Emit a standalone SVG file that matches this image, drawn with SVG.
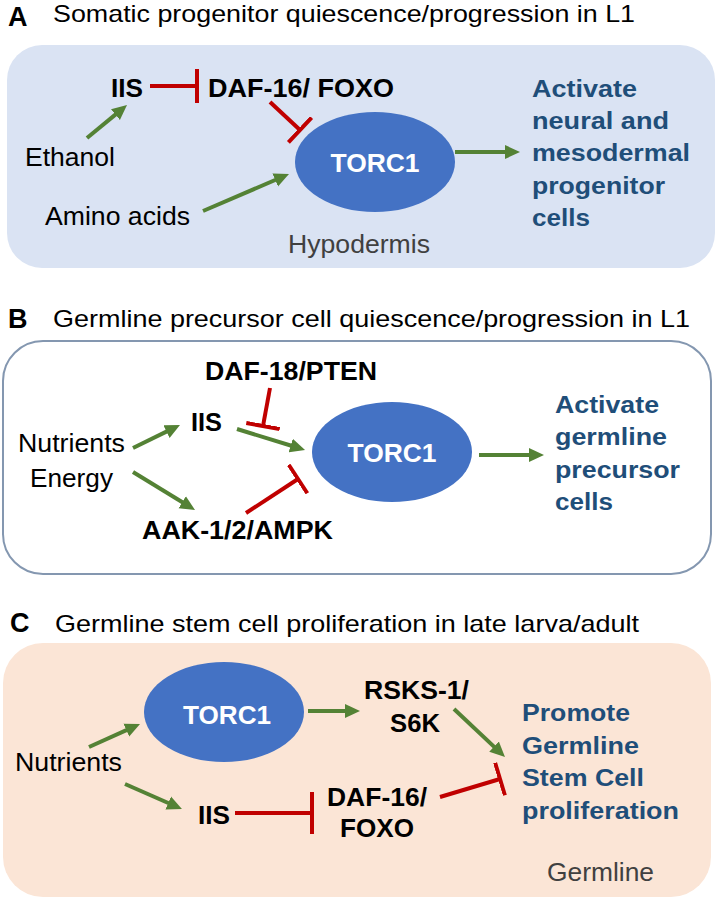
<svg xmlns="http://www.w3.org/2000/svg" width="717" height="899" viewBox="0 0 717 899">
<style>
text{font-family:"Liberation Sans",Arial,sans-serif;}
.lbl{font-size:27px;font-weight:bold;fill:#000;}
.ttl{font-size:24px;fill:#000;}
.b{font-size:26px;font-weight:bold;fill:#000;}
.r{font-size:25px;fill:#000;}
.out{font-size:23px;font-weight:bold;fill:#1f4e79;}
.tissue{font-size:25px;fill:#404040;}
.torc{font-size:26px;font-weight:bold;fill:#fff;}
.ell{fill:#4472c4;}
.act{stroke:#548235;stroke-width:4;fill:none;marker-end:url(#arr);}
.inh{stroke:#c00000;stroke-width:4;fill:none;marker-end:url(#tee);}
.inhL{stroke:#c00000;stroke-width:4;fill:none;marker-end:url(#teeL);}
</style>
<defs>
<marker id="arr" markerUnits="userSpaceOnUse" markerWidth="16" markerHeight="16" refX="5" refY="7" orient="auto" viewBox="0 0 16 14">
<path d="M0,0 L15,7 L0,14 Z" fill="#548235"/>
</marker>
<marker id="tee" markerUnits="userSpaceOnUse" markerWidth="6" markerHeight="36" refX="2" refY="17" orient="auto" viewBox="0 0 6 36">
<path d="M2,0 L2,34" stroke="#c00000" stroke-width="4"/>
</marker>
<marker id="teeL" markerUnits="userSpaceOnUse" markerWidth="6" markerHeight="44" refX="2" refY="21" orient="auto" viewBox="0 0 6 44">
<path d="M2,0 L2,42" stroke="#c00000" stroke-width="4"/>
</marker>
</defs>

<!-- Panel A -->
<g id="panelA">
<text class="lbl" x="8" y="26">A</text>
<text class="ttl" x="53" y="22" textLength="582" lengthAdjust="spacingAndGlyphs">Somatic progenitor quiescence/progression in L1</text>
<rect x="7" y="45" width="708" height="223" rx="35" ry="35" fill="#dae3f3"/>
<text class="tissue" x="288" y="253" textLength="142" lengthAdjust="spacingAndGlyphs">Hypodermis</text>
</g>
<g id="A_IIS"><text class="b" x="111" y="97" textLength="32" lengthAdjust="spacingAndGlyphs">IIS</text></g>
<g id="A_DAF16"><text class="b" x="208" y="97" textLength="186" lengthAdjust="spacingAndGlyphs">DAF-16/ FOXO</text></g>
<g id="A_Ethanol"><text class="r" x="25" y="166" textLength="90" lengthAdjust="spacingAndGlyphs">Ethanol</text></g>
<g id="A_Amino"><text class="r" x="45" y="225" textLength="145" lengthAdjust="spacingAndGlyphs">Amino acids</text></g>
<g id="A_TORC1"><ellipse class="ell" cx="375" cy="162" rx="80" ry="50"/><text class="torc" x="375" y="172" text-anchor="middle" textLength="89" lengthAdjust="spacingAndGlyphs">TORC1</text></g>
<g id="A_Out">
<text class="out" x="532" y="97" textLength="105" lengthAdjust="spacingAndGlyphs">Activate</text>
<text class="out" x="532" y="129" textLength="137" lengthAdjust="spacingAndGlyphs">neural and</text>
<text class="out" x="532" y="161" textLength="158" lengthAdjust="spacingAndGlyphs">mesodermal</text>
<text class="out" x="532" y="194" textLength="133" lengthAdjust="spacingAndGlyphs">progenitor</text>
<text class="out" x="532" y="226" textLength="58" lengthAdjust="spacingAndGlyphs">cells</text>
</g>

<!-- Panel B -->
<g id="panelB">
<text class="lbl" x="8" y="328">B</text>
<text class="ttl" x="53" y="327" textLength="637" lengthAdjust="spacingAndGlyphs">Germline precursor cell quiescence/progression in L1</text>
<rect x="3" y="341" width="708" height="233" rx="40" ry="40" fill="#fff" stroke="#8497b0" stroke-width="2"/>
</g>
<g id="B_DAF18"><text class="b" x="205" y="380" textLength="172" lengthAdjust="spacingAndGlyphs">DAF-18/PTEN</text></g>
<g id="B_IIS"><text class="b" x="191" y="431" textLength="31" lengthAdjust="spacingAndGlyphs">IIS</text></g>
<g id="B_Nutrients"><text class="r" x="18" y="452" textLength="107" lengthAdjust="spacingAndGlyphs">Nutrients</text></g>
<g id="B_Energy"><text class="r" x="30" y="487" textLength="83" lengthAdjust="spacingAndGlyphs">Energy</text></g>
<g id="B_AAK"><text class="b" x="142" y="539" textLength="191" lengthAdjust="spacingAndGlyphs">AAK-1/2/AMPK</text></g>
<g id="B_TORC1"><ellipse class="ell" cx="392" cy="452" rx="80" ry="50"/><text class="torc" x="392" y="462" text-anchor="middle" textLength="89" lengthAdjust="spacingAndGlyphs">TORC1</text></g>
<g id="B_Out">
<text class="out" x="555" y="413" textLength="104" lengthAdjust="spacingAndGlyphs">Activate</text>
<text class="out" x="555" y="445" textLength="112" lengthAdjust="spacingAndGlyphs">germline</text>
<text class="out" x="555" y="478" textLength="125" lengthAdjust="spacingAndGlyphs">precursor</text>
<text class="out" x="555" y="510" textLength="58" lengthAdjust="spacingAndGlyphs">cells</text>
</g>

<!-- Panel C -->
<g id="panelC">
<text class="lbl" x="10" y="632">C</text>
<text class="ttl" x="55" y="632" textLength="584" lengthAdjust="spacingAndGlyphs">Germline stem cell proliferation in late larva/adult</text>
<rect x="3" y="643" width="708" height="254" rx="40" ry="40" fill="#fbe5d6"/>
<text class="tissue" x="547" y="881" textLength="107" lengthAdjust="spacingAndGlyphs">Germline</text>
</g>
<g id="C_TORC1"><ellipse class="ell" cx="224" cy="712" rx="80" ry="50"/><text class="torc" x="227" y="724" text-anchor="middle" textLength="88" lengthAdjust="spacingAndGlyphs">TORC1</text></g>
<g id="C_Nutrients"><text class="r" x="15" y="771" textLength="107" lengthAdjust="spacingAndGlyphs">Nutrients</text></g>
<g id="C_IIS"><text class="b" x="198" y="824" textLength="32" lengthAdjust="spacingAndGlyphs">IIS</text></g>
<g id="C_DAF16">
<text class="b" x="327" y="806" textLength="100" lengthAdjust="spacingAndGlyphs">DAF-16/</text>
<text class="b" x="340" y="837" textLength="74" lengthAdjust="spacingAndGlyphs">FOXO</text>
</g>
<g id="C_RSKS">
<text class="b" x="364" y="699" textLength="105" lengthAdjust="spacingAndGlyphs">RSKS-1/</text>
<text class="b" x="390" y="732" textLength="50" lengthAdjust="spacingAndGlyphs">S6K</text>
</g>
<g id="C_Out">
<text class="out" x="522" y="721" textLength="108" lengthAdjust="spacingAndGlyphs">Promote</text>
<text class="out" x="522" y="754" textLength="117" lengthAdjust="spacingAndGlyphs">Germline</text>
<text class="out" x="522" y="786" textLength="122" lengthAdjust="spacingAndGlyphs">Stem Cell</text>
<text class="out" x="522" y="819" textLength="157" lengthAdjust="spacingAndGlyphs">proliferation</text>
</g>

<!-- Connectors -->
<g id="connectors">
<line class="inh" x1="150" y1="86" x2="197" y2="86"/>
<line class="inh" x1="270" y1="102" x2="300" y2="130"/>
<line class="act" x1="87" y1="138" x2="119.3" y2="111.4"/>
<line class="act" x1="203" y1="211" x2="279.8" y2="178"/>
<line class="act" x1="455" y1="152" x2="510" y2="152"/>

<line class="inh" x1="270" y1="388" x2="263" y2="426"/>
<line class="act" x1="133" y1="448" x2="171" y2="429.4"/>
<line class="act" x1="237" y1="429" x2="295.5" y2="447"/>
<line class="act" x1="133" y1="472" x2="186.5" y2="504.8"/>
<line class="inh" x1="246" y1="513" x2="298" y2="479"/>
<line class="act" x1="479" y1="455" x2="534" y2="455"/>

<line class="act" x1="89" y1="747" x2="130.9" y2="728.1"/>
<line class="act" x1="125" y1="784" x2="172.8" y2="805"/>
<line class="act" x1="308" y1="711" x2="350" y2="711"/>
<line class="act" x1="454" y1="709" x2="497.7" y2="750.1"/>
<line class="inhL" x1="235" y1="813" x2="312" y2="813"/>
<line class="inh" x1="440" y1="797" x2="500" y2="779"/>
</g>
</svg>
